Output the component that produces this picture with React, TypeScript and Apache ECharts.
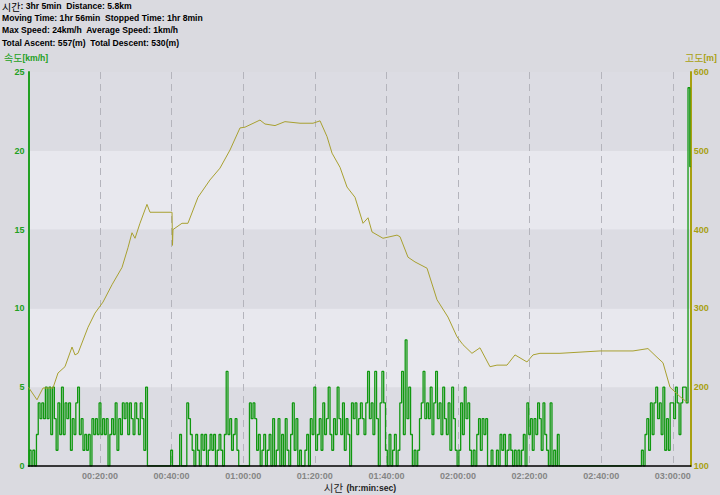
import React, { useEffect, useRef } from "react";
import * as echarts from "echarts";

// ---- Data ----
// Elevation samples: time (seconds from start) and altitude (m)
const elevTime = [
  0, 144, 245, 412, 496, 613, 731, 781, 831, 999, 1116, 1250, 1401, 1569, 1669,
  1736, 1787, 1870, 1987, 2038, 2407, 2415, 2423, 2574, 2674, 2842, 3043, 3211,
  3379, 3546, 3630, 3881, 3965, 4133, 4300, 4552, 4770, 4888, 5005, 5089, 5223,
  5340, 5474, 5608, 5692, 5759, 5943, 6178, 6228, 6362, 6479, 6681, 6848, 7032,
  7183, 7283, 7434, 7568, 7736, 7853, 8021, 8155, 8356, 8457, 8574, 8909, 9580,
  10133, 10384, 10535, 10636, 10753, 10921, 11038,
];
const elevValues = [
  200, 184, 199, 199, 218, 226, 251, 241, 243, 276, 294, 308, 330, 352, 377,
  396, 389, 408, 432, 422, 422, 380, 400, 408, 408, 441, 463, 478, 501, 529,
  530, 539, 534, 532, 537, 535, 535, 538, 518, 497, 479, 454, 441, 408, 415,
  397, 389, 393, 391, 365, 359, 351, 311, 289, 264, 254, 243, 250, 226, 228,
  228, 241, 232, 241, 243, 243, 246, 246, 249, 238, 231, 200, 188, 181,
];

// Speed samples (km/h), one every SPEED_STEP seconds
const SPEED_STEP = 30;
const speedValues = [
  0, 1, 0, 1, 0, 2, 4, 3, 4, 3, 5, 3, 5, 2, 5, 3, 1, 4, 2, 5, 2, 4, 3, 4, 1, 3,
  2, 4, 5, 2, 3, 1, 2, 1, 2, 0, 3, 2, 3, 2, 4, 2, 3, 2, 3, 0, 2, 3, 2, 4, 1, 3,
  2, 4, 3, 4, 2, 4, 3, 2, 4, 3, 2, 4, 3, 1, 5, 0, 0, 0, 0, 0, 0, 0, 0, 0, 0, 0,
  0, 0, 1, 0, 0, 0, 0, 2, 0, 0, 0, 4, 3, 2, 1, 0, 2, 1, 0, 2, 1, 2, 0, 1, 2, 1,
  2, 0, 1, 2, 1, 0, 2, 6, 2, 3, 1, 2, 3, 1, 0, 0, 0, 0, 0, 0, 4, 3, 4, 3, 1, 2,
  0, 1, 2, 0, 1, 2, 0, 3, 0, 1, 3, 0, 2, 0, 3, 1, 0, 2, 4, 1, 3, 0, 1, 0, 0, 1,
  2, 0, 3, 2, 5, 1, 2, 3, 1, 4, 2, 3, 5, 2, 1, 3, 2, 5, 3, 2, 4, 1, 3, 2, 0, 4,
  3, 4, 2, 3, 4, 3, 2, 4, 6, 3, 4, 2, 6, 3, 0, 4, 6, 4, 1, 0, 2, 0, 1, 2, 0, 1,
  4, 6, 2, 8, 3, 5, 2, 0, 1, 0, 1, 3, 4, 6, 3, 4, 3, 5, 2, 4, 6, 3, 4, 2, 5, 3,
  2, 4, 1, 5, 3, 1, 0, 1, 4, 2, 5, 3, 4, 1, 0, 1, 0, 2, 3, 1, 3, 2, 3, 0, 0, 1,
  0, 0, 1, 0, 2, 1, 2, 0, 1, 2, 1, 0, 1, 0, 1, 0, 1, 2, 0, 4, 2, 3, 1, 3, 2, 4,
  3, 1, 4, 2, 1, 0, 4, 0, 1, 0, 2,
  0, 0, 0, 0, 0, 0, 0, 0, 0, 0, 0, 0, 0, 0, 0, 0, 0, 0, 0, 0, 0, 0, 0, 0, 0, 0,
  0, 0, 0, 0, 0, 0, 0, 0, 0, 0, 0, 0, 0, 0, 0, 0, 0, 0, 0, 0,
  1, 0, 2, 3, 1, 4, 2, 4, 5, 3, 4, 2, 5, 1, 3, 1, 4, 4, 3, 5, 4, 2, 4, 5, 5, 4,
  24, 19,
];

const headerLines = [
  "{k|시간}{b|: 3hr 5min  Distance: 5.8km}",
  "{b|Moving Time: 1hr 56min  Stopped Time: 1hr 8min}",
  "{b|Max Speed: 24km/h  Average Speed: 1km/h}",
  "{b|Total Ascent: 557(m)  Total Descent: 530(m)}",
];
const leftAxisTitle = "{k|속도}{b|[km/h]}";
const rightAxisTitle = "{k|고도}{b|[m]}";
const xAxisTitle = "{k|시간} {b|(hr:min:sec)}";

const X_MAX = 11100;
const X_INTERVAL = 1200;

const CJK = '"Noto Sans CJK KR", sans-serif';
const LAT = '"Liberation Sans", Arial, sans-serif';
const GREEN = "#22a022";
const OLIVE = "#a8a010";

function pad(n: number) {
  return n < 10 ? "0" + n : "" + n;
}
function fmtTime(v: number) {
  const h = Math.floor(v / 3600);
  const m = Math.floor((v % 3600) / 60);
  const s = Math.floor(v % 60);
  return pad(h) + ":" + pad(m) + ":" + pad(s);
}

function richText(color: string, cjkSize: number, latSize: number) {
  return {
    k: { fontFamily: CJK, fontSize: cjkSize, fill: color, color },
    b: { fontFamily: LAT, fontSize: latSize, fontWeight: "bold", fill: color, color },
  };
}

export default function App() {
  const ref = useRef<HTMLDivElement>(null);

  useEffect(() => {
    if (!ref.current) return;
    const chart = echarts.init(ref.current, undefined, { renderer: "svg" });

    const speedData = speedValues.map((v, i) => [i * SPEED_STEP, v]);
    const elevData = elevTime.map((t, i) => [t, elevValues[i]]);

    const graphic: any[] = headerLines.map((t, i) => ({
      type: "text",
      x: 2,
      y: 6 + i * 12.2,
      style: {
        text: t,
        rich: richText("#000", 10, 8.6),
        verticalAlign: "middle",
        fill: "#000",
      },
    }));
    graphic.push({
      type: "text",
      x: 4,
      y: 57.5,
      style: { text: leftAxisTitle, rich: richText(GREEN, 10, 8.6), verticalAlign: "middle", fill: GREEN },
    });
    graphic.push({
      type: "text",
      x: 685,
      y: 57.5,
      style: { text: rightAxisTitle, rich: richText(OLIVE, 10, 8.6), verticalAlign: "middle", fill: OLIVE },
    });
    graphic.push({
      type: "text",
      x: 360,
      y: 487.5,
      style: {
        text: xAxisTitle,
        rich: richText("#222", 10.5, 8.6),
        align: "center",
        verticalAlign: "middle",
        fill: "#222",
      },
    });

    const xCommon = {
      type: "value",
      min: 0,
      max: X_MAX,
      interval: X_INTERVAL,
      position: "bottom",
      axisTick: { show: false },
    };

    chart.setOption({
      animation: false,
      backgroundColor: "#dadae0",
      textStyle: { fontFamily: LAT },
      grid: { left: 28.4, right: 29.3, top: 72, bottom: 29, containLabel: false },
      graphic,
      xAxis: [
        {
          ...xCommon,
          axisLine: { show: false },
          axisLabel: { show: false },
          splitLine: {
            show: true,
            showMinLine: false,
            showMaxLine: false,
            lineStyle: { color: "#b4b4bc", type: [7, 5], width: 1 },
          },
        },
        {
          ...xCommon,
          z: 10,
          axisLine: { show: true, onZero: false, lineStyle: { color: "#000", width: 1.5 } },
          splitLine: { show: false },
          axisLabel: {
            color: "#858585",
            fontSize: 9,
            fontWeight: "bold",
            fontFamily: LAT,
            margin: 5,
            formatter: (v: number) =>
              v > 0 && v % X_INTERVAL === 0 && v <= X_MAX - 60 ? fmtTime(v) : "",
          },
        },
      ],
      yAxis: [
        {
          type: "value",
          min: 0,
          max: 25,
          interval: 5,
          position: "left",
          axisLine: { show: true, onZero: false, lineStyle: { color: GREEN, width: 2 } },
          axisTick: { show: false },
          axisLabel: { color: GREEN, fontSize: 9, fontWeight: "bold", fontFamily: LAT, margin: 4 },
          splitLine: { show: false },
          splitArea: { show: true, areaStyle: { color: ["#dcdce3", "#e8e8ee"] } },
        },
        {
          type: "value",
          min: 100,
          max: 600,
          interval: 100,
          position: "right",
          axisLine: { show: true, onZero: false, lineStyle: { color: OLIVE, width: 2 } },
          axisTick: { show: false },
          axisLabel: { color: OLIVE, fontSize: 9, fontWeight: "bold", fontFamily: LAT, margin: 3 },
          splitLine: { show: false },
        },
      ],
      series: [
        {
          name: "속도",
          type: "line",
          xAxisIndex: 0,
          yAxisIndex: 0,
          data: speedData,
          symbol: "none",
          step: "middle",
          lineStyle: { color: "#109810", width: 1.3 },
          z: 2,
        },
        {
          name: "고도",
          type: "line",
          xAxisIndex: 0,
          yAxisIndex: 1,
          data: elevData,
          symbol: "none",
          lineStyle: { color: "#a8a030", width: 1 },
          z: 3,
        },
      ],
    });

    return () => chart.dispose();
  }, []);

  return (
    <div
      ref={ref}
      style={{ position: "fixed", left: 0, top: 0, width: 720, height: 495 }}
    />
  );
}
